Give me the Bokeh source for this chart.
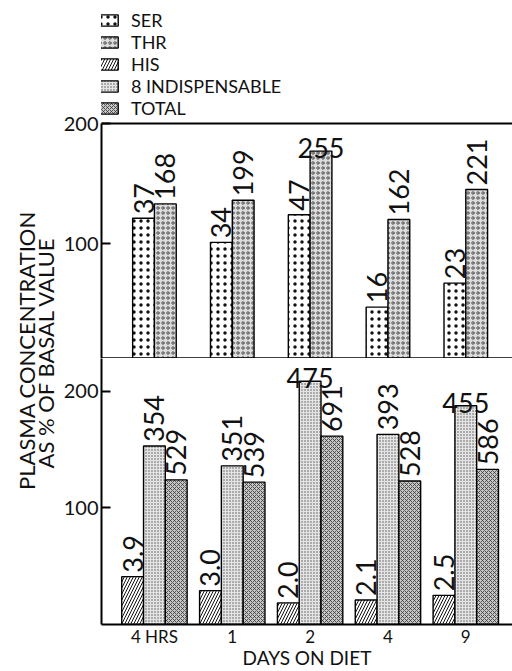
import math
from bokeh.plotting import figure
from bokeh.models import ColumnDataSource, Range1d, FixedTicker, Span, Label, Legend, LegendItem
from bokeh.layouts import row, column
from bokeh.transform import dodge
from bokeh.embed import file_html
from bokeh.resources import INLINE
from bokeh.core.properties import value

# ---------------- data ----------------
groups = ["4 HRS", "1", "2", "4", "9"]
# top panel (% of basal) and absolute values written on bars
ser_pct = [121, 101, 124, 47, 67]
thr_pct = [133, 136, 177, 120, 145]
ser_abs = ["37", "34", "47", "16", "23"]
thr_abs = ["168", "199", "255", "162", "221"]
# bottom panel
his_pct = [41, 29, 18.5, 21, 25]
ind_pct = [153, 136, 208.5, 163, 187.5]
tot_pct = [124, 122, 161.5, 123, 133]
his_abs = ["3.9", "3.0", "2.0", "2.1", "2.5"]
ind_abs = ["354", "351", "475", "393", "455"]
tot_abs = ["529", "539", "691", "528", "586"]
y_ticks = [100, 200]
legend_names = ["SER", "THR", "HIS", "8 INDISPENSABLE", "TOTAL"]
x_title = "DAYS ON DIET"
y_title = ["PLASMA CONCENTRATION", "AS % OF BASAL VALUE"]

FONT = "Lato"
BW = 0.28
xs = list(range(len(groups)))

styles = {
    "SER": dict(fill_color="white", hatch_pattern=".", hatch_scale=7, hatch_weight=1.6, hatch_color="#111"),
    "THR": dict(fill_color="#dcdcdc", hatch_pattern="o", hatch_scale=5, hatch_weight=0.8, hatch_color="#333"),
    "HIS": dict(fill_color="white", hatch_pattern="/", hatch_scale=6, hatch_weight=1.0, hatch_color="#111"),
    "8 INDISPENSABLE": dict(fill_color="#e4e4e4", hatch_pattern=".", hatch_scale=3, hatch_weight=0.8, hatch_color="#555"),
    "TOTAL": dict(fill_color="#c8c8c8", hatch_pattern="x", hatch_scale=4, hatch_weight=0.8, hatch_color="#333"),
}
BAR_LINE = dict(line_color="black", line_width=1.4)

xr = Range1d(-0.68, 4.6)
TOP_LO, TOP_HI = 4.2, 200      # visible value span of the upper panel
TOP_VIEW_HI = 302.5            # upper panel frame also holds the legend area


def style_axes(p):
    p.grid.visible = False
    p.outline_line_color = None
    p.background_fill_color = "white"


def add_series(p, tops, labels, off, name, flat=(), visible=True):
    src = ColumnDataSource(dict(x=xs, top=tops))
    r = p.vbar(x=dodge("x", off, range=xr), top="top", bottom=0, width=BW,
               source=src, visible=visible, **styles[name], **BAR_LINE)
    if not visible:
        return r
    rot = [i for i in xs if i not in flat]
    fl = [i for i in xs if i in flat]
    rs = ColumnDataSource(dict(x=[xs[i] for i in rot], top=[tops[i] for i in rot],
                               label=[labels[i] for i in rot]))
    p.text(x=dodge("x", off, range=xr), y="top", text="label", source=rs,
           angle=math.pi / 2, text_align="left", text_baseline="middle",
           y_offset=-4, text_font=value(FONT), text_font_size="27px", text_color="#111")
    if fl:
        fs = ColumnDataSource(dict(x=[xs[i] for i in fl], top=[tops[i] for i in fl],
                                   label=[labels[i] for i in fl]))
        p.text(x=dodge("x", off, range=xr), y="top", text="label", source=fs,
               text_align="center", text_baseline="alphabetic",
               y_offset=-3, text_font=value(FONT), text_font_size="27px", text_color="#111")
    return r


def yaxis(p, bounds):
    ax = p.yaxis[0]
    ax.ticker = FixedTicker(ticks=y_ticks)
    ax.bounds = bounds
    ax.minor_tick_line_color = None
    ax.major_tick_in = 9
    ax.major_tick_out = 0
    ax.major_tick_line_width = 2
    ax.axis_line_width = 2
    ax.major_label_standoff = 3
    ax.major_label_text_font = FONT
    ax.major_label_text_font_size = "20px"
    ax.major_label_text_color = "#111"


W_TOTAL, H_TOTAL = 512, 671
W_LAB = 60
H_TOP = 358

# ---------------- label figure (y title) ----------------
lab = figure(width=W_LAB, height=H_TOTAL, x_range=Range1d(0, W_LAB), y_range=Range1d(0, H_TOTAL),
             toolbar_location=None, output_backend="svg", x_axis_location=None,
             y_axis_location=None, min_border_left=0, min_border_right=0,
             min_border_top=0, min_border_bottom=0)
style_axes(lab)
lab.add_layout(Label(x=25.5, y=H_TOTAL - 350, text=y_title[0], angle=math.pi / 2, text_align="center",
                     text_baseline="middle", text_font=FONT, text_font_size="22px",
                     text_color="#111"))
lab.add_layout(Label(x=45, y=H_TOTAL - 352, text=y_title[1], angle=math.pi / 2, text_align="center",
                     text_baseline="middle", text_font=FONT, text_font_size="22px",
                     text_color="#111"))

# ---------------- top panel ----------------
top = figure(width=W_TOTAL - W_LAB, height=H_TOP, x_range=xr, y_range=Range1d(TOP_LO, TOP_VIEW_HI),
             toolbar_location=None, output_backend="svg", x_axis_location=None,
             min_border_left=40, min_border_right=0, min_border_top=0, min_border_bottom=0)
style_axes(top)
yaxis(top, (TOP_LO, TOP_HI))
r_ser = add_series(top, ser_pct, ser_abs, -BW / 2, "SER")
r_thr = add_series(top, thr_pct, thr_abs, BW / 2, "THR", flat=(2,))
top.add_layout(Span(location=TOP_HI, dimension="width", line_color="black", line_width=2))
top.add_layout(Span(location=TOP_LO, dimension="width", line_color="black", line_width=2.5))

# hidden copies of the lower-panel series, used only for their legend swatches
r_his_l = add_series(top, his_pct, his_abs, -BW, "HIS", visible=False)
r_ind_l = add_series(top, ind_pct, ind_abs, 0, "8 INDISPENSABLE", visible=False)
r_tot_l = add_series(top, tot_pct, tot_abs, BW, "TOTAL", visible=False)
legend = Legend(items=[LegendItem(label=n, renderers=[r]) for n, r in
                       zip(legend_names, [r_ser, r_thr, r_his_l, r_ind_l, r_tot_l])],
                location=(-4, 239), glyph_width=23, glyph_height=14, label_height=20,
                spacing=0, padding=0, margin=0, border_line_color=None,
                background_fill_alpha=0, inactive_fill_alpha=0,
                label_text_font=FONT, label_text_font_size="18px",
                label_standoff=11, label_text_color="#111")
top.add_layout(legend)

# ---------------- bottom panel ----------------
bot = figure(width=W_TOTAL - W_LAB, height=H_TOTAL - H_TOP, x_range=xr, y_range=Range1d(0, 228),
             toolbar_location=None, output_backend="svg",
             min_border_left=40, min_border_right=0, min_border_top=0, min_border_bottom=46)
style_axes(bot)
yaxis(bot, "auto")
add_series(bot, his_pct, his_abs, -BW, "HIS")
add_series(bot, ind_pct, ind_abs, 0, "8 INDISPENSABLE", flat=(2, 4))
add_series(bot, tot_pct, tot_abs, BW, "TOTAL")
xa = bot.xaxis[0]
xa.ticker = FixedTicker(ticks=xs)
xa.major_label_overrides = {i: g for i, g in zip(xs, groups)}
xa.major_tick_line_color = None
xa.minor_tick_line_color = None
xa.axis_line_width = 2
xa.major_label_standoff = -5
xa.major_label_text_font = FONT
xa.major_label_text_font_size = "17px"
xa.major_label_text_color = "#111"
xa.axis_label = x_title
xa.axis_label_standoff = -4
xa.axis_label_text_font = FONT
xa.axis_label_text_font_style = "normal"
xa.axis_label_text_font_size = "19px"
xa.axis_label_text_color = "#111"

layout = row(lab, column(top, bot))
open("out.html", "w").write(file_html(layout, INLINE))
